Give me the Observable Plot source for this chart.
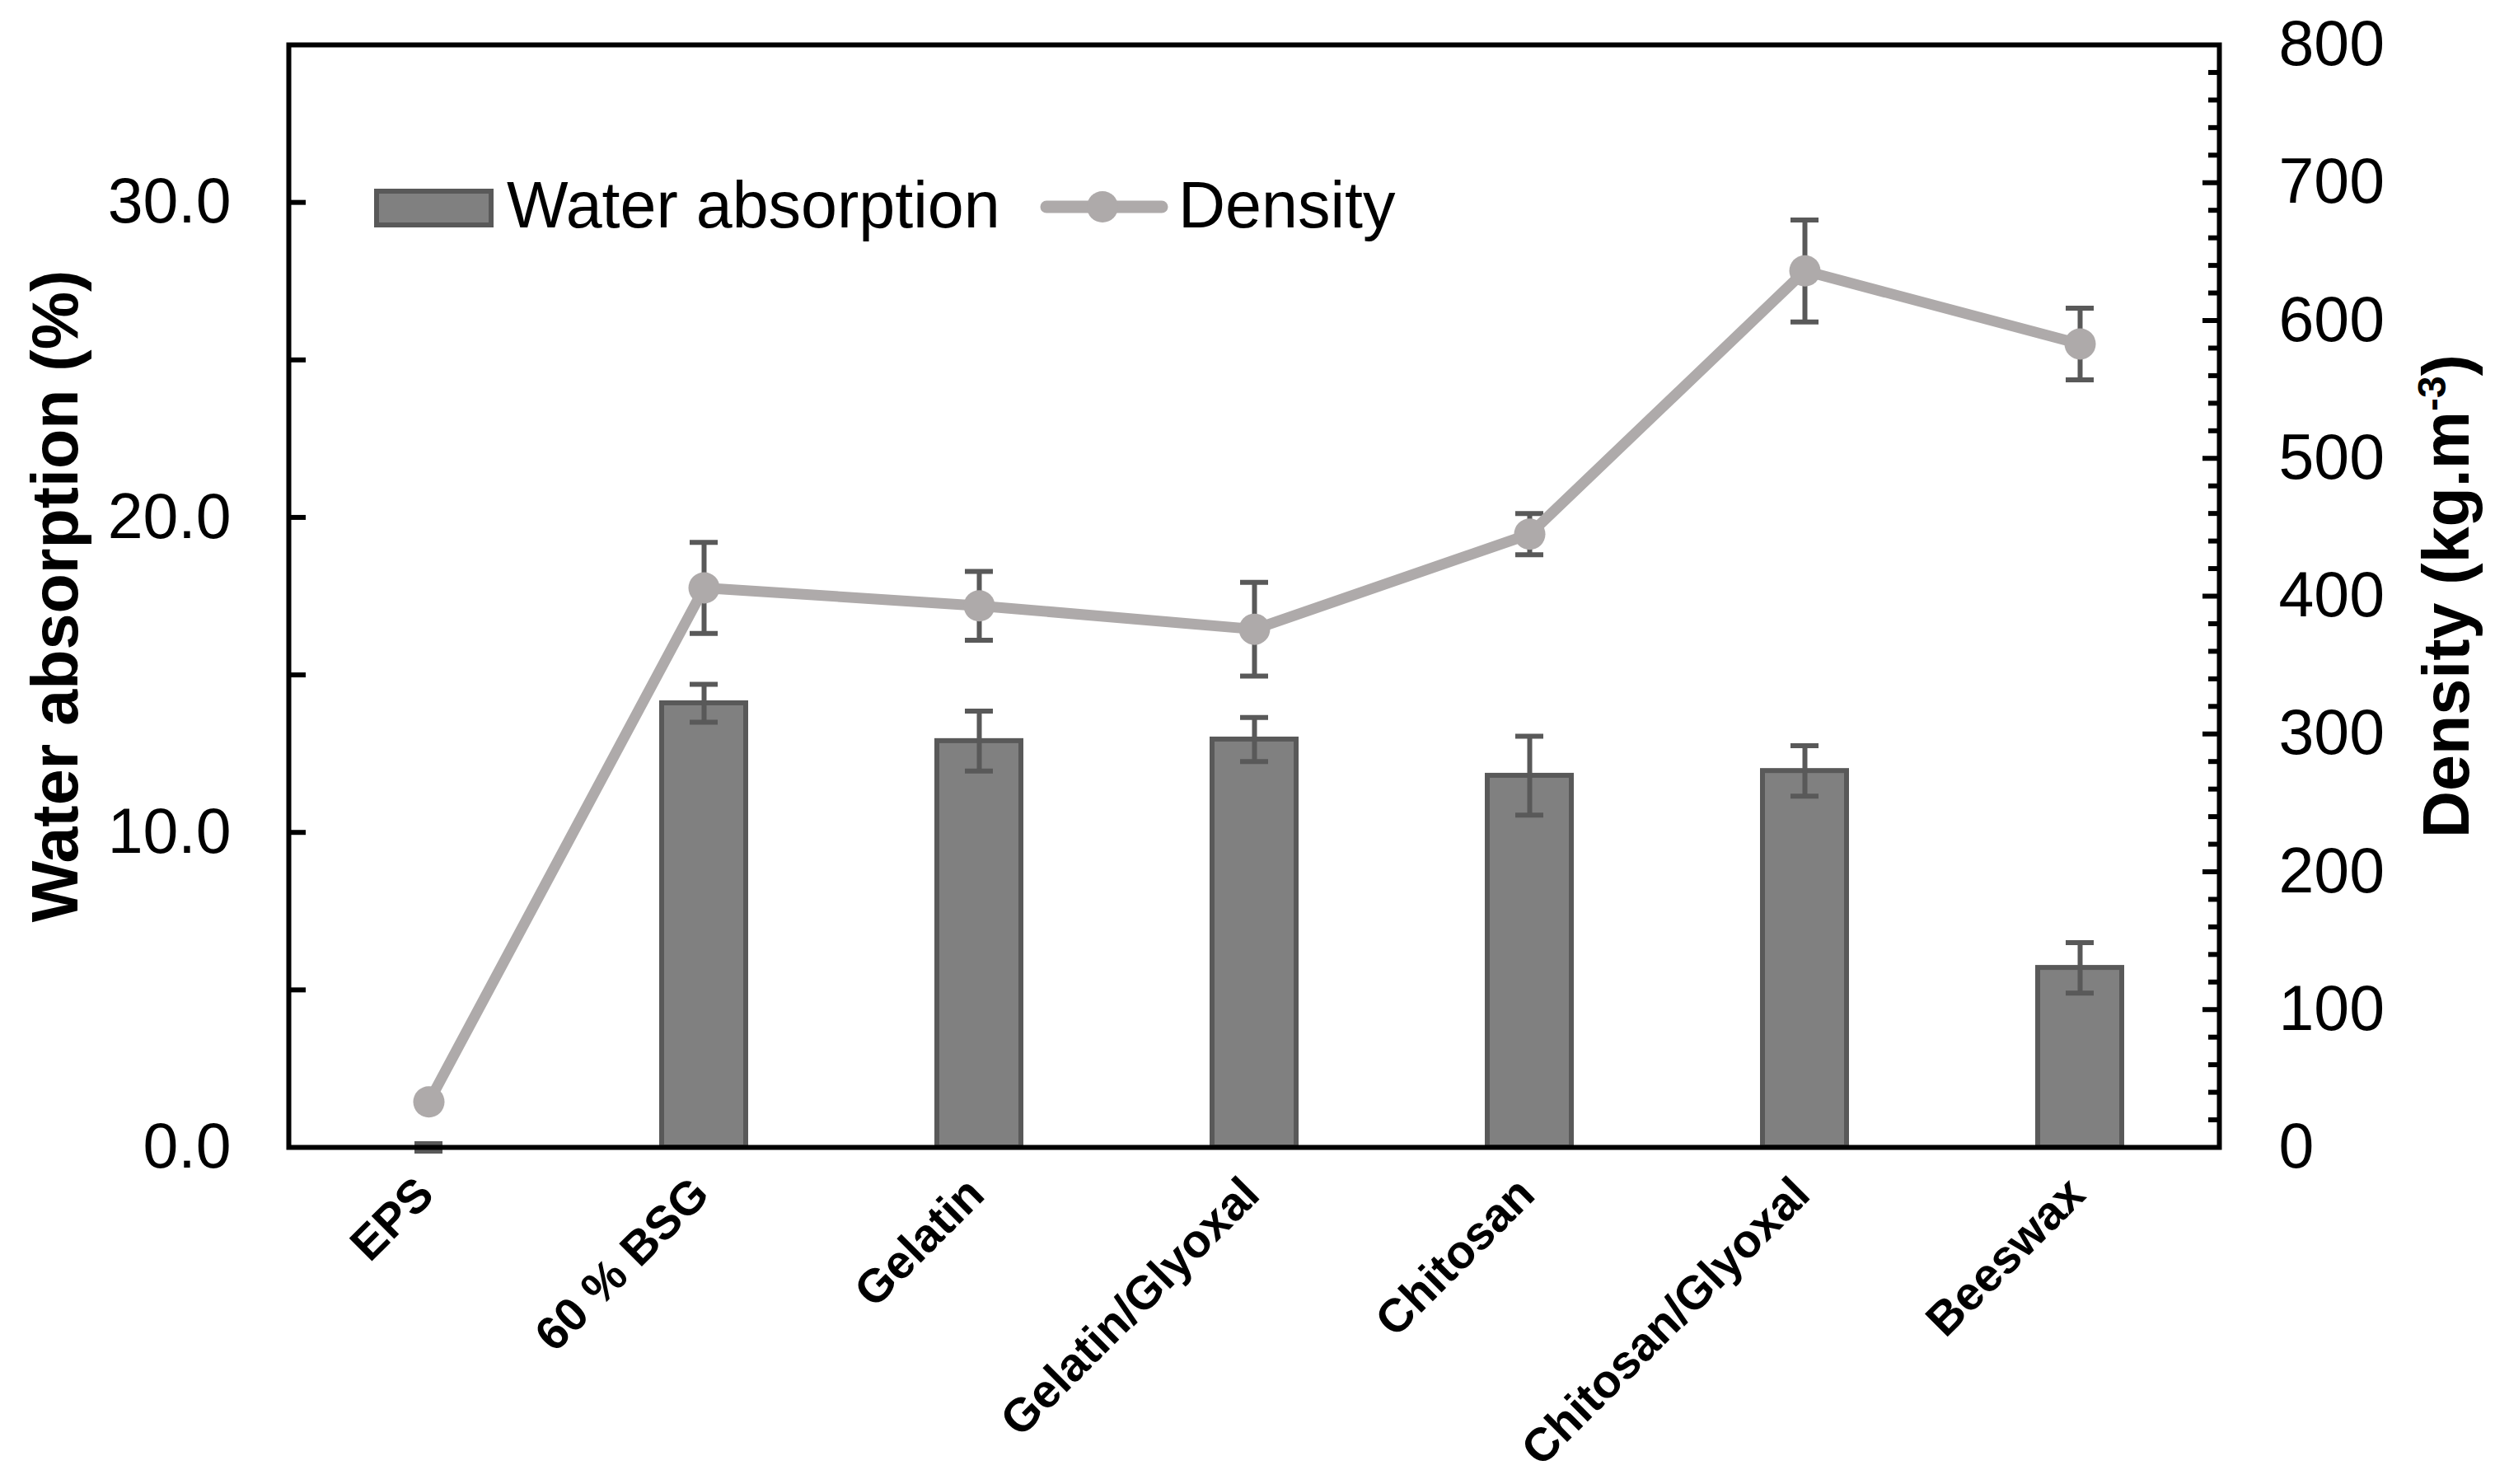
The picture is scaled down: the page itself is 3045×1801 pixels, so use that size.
<!DOCTYPE html>
<html>
<head>
<meta charset="utf-8">
<script src="https://cdn.jsdelivr.net/npm/d3@7"></script>
<script src="https://cdn.jsdelivr.net/npm/@observablehq/plot@0.6"></script>
<style>
  html, body { margin: 0; padding: 0; background: #ffffff; }
  #chart svg { display: block; }
</style>
</head>
<body>
<div id="chart"></div>
<script>
// ---- Data ----
const categories = ["EPS", "60 % BSG", "Gelatin", "Gelatin/Glyoxal", "Chitosan", "Chitosan/Glyoxal", "Beeswax"];
const waterAbsorption = [0.0, 14.1, 12.9, 12.95, 11.8, 11.95, 5.7];   // %
const waterError      = [0.12, 0.6, 0.95, 0.7, 1.25, 0.8, 0.8];
const density         = [33, 406, 393, 376, 445, 636, 583];          // kg.m-3
const densityError    = [0, 33, 25, 34, 15, 37, 26];

const leftTicks       = [0, 10, 20, 30];
const leftMinorTicks  = [5, 10, 15, 20, 25, 30];
const rightTicks      = [0, 100, 200, 300, 400, 500, 600, 700, 800];
const rightMajorMarks = [100, 200, 300, 400, 500, 600, 700];
const rightMinorMarks = [20, 40, 60, 80, 120, 140, 160, 180, 220, 240, 260, 280, 320, 340, 360, 380,
                         420, 440, 460, 480, 520, 540, 560, 580, 620, 640, 660, 680, 720, 740, 760, 780];

const leftTitle  = "Water absorption (%)";
const rightTitle = "Density (kg.m-3)";
const legendLabels = ["Water absorption", "Density"];

// ---- Styles ----
const barFill = "#808080";
const darkGray = "#595959";
const lineGray = "#AEAAAA";
const font = "'Liberation Sans', Arial, Helvetica, sans-serif";

// density mapped onto the left (water absorption) scale for the secondary axis
const yd = d3.scaleLinear([0, 800], [0, 35]);

const data = categories.map((cat, i) => ({
  cat,
  water: waterAbsorption[i],
  wErr: waterError[i],
  dens: density[i],
  dErr: densityError[i]
}));
const densErrData = data.filter(d => d.dErr > 0);

const chart = Plot.plot({
  width: 3045,
  height: 1801,
  marginLeft: 350,
  marginRight: 352,
  marginTop: 54,
  marginBottom: 409,
  style: { fontFamily: font, fontSize: "77px", color: "black", background: "white", overflow: "visible" },
  x: { type: "band", domain: categories, paddingInner: 0.695, paddingOuter: 0.3475, axis: null },
  y: { domain: [0, 35], axis: null },
  marks: [
    // bars
    Plot.barY(data, { x: "cat", y: "water", fill: barFill, stroke: darkGray, strokeWidth: 6 }),
    // water error bars
    Plot.ruleX(data, { x: "cat", y1: d => d.water - d.wErr, y2: d => d.water + d.wErr, stroke: darkGray, strokeWidth: 6 }),
    Plot.tickY(data, { x: "cat", y: d => d.water + d.wErr, stroke: darkGray, strokeWidth: 6, inset: 34 }),
    Plot.tickY(data, { x: "cat", y: d => d.water - d.wErr, stroke: darkGray, strokeWidth: 6, inset: 34 }),
    // density error bars
    Plot.ruleX(densErrData, { x: "cat", y1: d => yd(d.dens - d.dErr), y2: d => yd(d.dens + d.dErr), stroke: darkGray, strokeWidth: 6 }),
    Plot.tickY(densErrData, { x: "cat", y: d => yd(d.dens + d.dErr), stroke: darkGray, strokeWidth: 6, inset: 34 }),
    Plot.tickY(densErrData, { x: "cat", y: d => yd(d.dens - d.dErr), stroke: darkGray, strokeWidth: 6, inset: 34 }),
    // density line and points
    Plot.line(data, { x: "cat", y: d => yd(d.dens), stroke: lineGray, strokeWidth: 13 }),
    Plot.dot(data, { x: "cat", y: d => yd(d.dens), r: 19, fill: lineGray, stroke: "none" }),
    // frame
    Plot.frame({ stroke: "black", strokeWidth: 6 }),
    // left axis: inward ticks, labels
    Plot.axisY(leftMinorTicks, { anchor: "left", tickSize: -21, strokeWidth: 6, stroke: "black", fill: "none", label: null }),
    Plot.axisY(leftTicks, { anchor: "left", tickSize: 0, tickPadding: 70, fontSize: 77, tickFormat: d3.format(".1f"), label: null }),
    // right axis: inward ticks, labels
    Plot.axisY(rightMajorMarks.map(yd), { anchor: "right", tickSize: -21, strokeWidth: 6, stroke: "black", fill: "none", label: null }),
    Plot.axisY(rightMinorMarks.map(yd), { anchor: "right", tickSize: -14, strokeWidth: 6, stroke: "black", fill: "none", label: null }),
    Plot.axisY(rightTicks.map(yd), { anchor: "right", tickSize: 0, tickPadding: 72, fontSize: 77, tickFormat: v => String(Math.round(yd.invert(v))), label: null }),
    // category labels
    Plot.text(categories, {
      x: d => d, text: d => d, frameAnchor: "bottom", rotate: -45,
      textAnchor: "end", lineAnchor: "bottom", dx: 9, dy: 60,
      fontSize: 57, fontWeight: "bold", fill: "black"
    }),
    // axis titles
    Plot.text([leftTitle], { text: d => d, frameAnchor: "left", dx: -282, rotate: -90, fontSize: 79, fontWeight: "bold", fill: "black", textAnchor: "middle", lineAnchor: "middle" }),
    Plot.text([rightTitle], { text: d => d, frameAnchor: "right", dx: 277, rotate: -90, fontSize: 79, fontWeight: "bold", fill: "black", textAnchor: "middle", lineAnchor: "middle" })
  ]
});

document.getElementById("chart").appendChild(chart);

// superscript in the right title
const svg = d3.select(chart);
svg.selectAll("text").filter(function () { return this.textContent === rightTitle; }).each(function () {
  const t = d3.select(this);
  t.text(null);
  t.append("tspan").text("Density (kg.m");
  t.append("tspan").attr("font-size", "48px").attr("dy", "-28").text("-3");
  t.append("tspan").attr("dy", "28").text(")");
});

// legend (inside the plot area, top-left)
const lg = svg.append("g").attr("class", "legend")
  .attr("font-family", font).attr("font-size", 79).attr("text-anchor", "start");
lg.append("rect").attr("x", 457).attr("y", 232).attr("width", 139).attr("height", 41)
  .attr("fill", barFill).attr("stroke", darkGray).attr("stroke-width", 6);
lg.append("text").attr("x", 615).attr("y", 276).attr("fill", "black").attr("text-anchor", "start").text(legendLabels[0]);
lg.append("line").attr("x1", 1270).attr("x2", 1410).attr("y1", 251).attr("y2", 251)
  .attr("stroke", lineGray).attr("stroke-width", 15).attr("stroke-linecap", "round");
lg.append("circle").attr("cx", 1338).attr("cy", 251).attr("r", 19).attr("fill", lineGray);
lg.append("text").attr("x", 1430).attr("y", 276).attr("fill", "black").attr("text-anchor", "start").text(legendLabels[1]);
</script>
</body>
</html>
